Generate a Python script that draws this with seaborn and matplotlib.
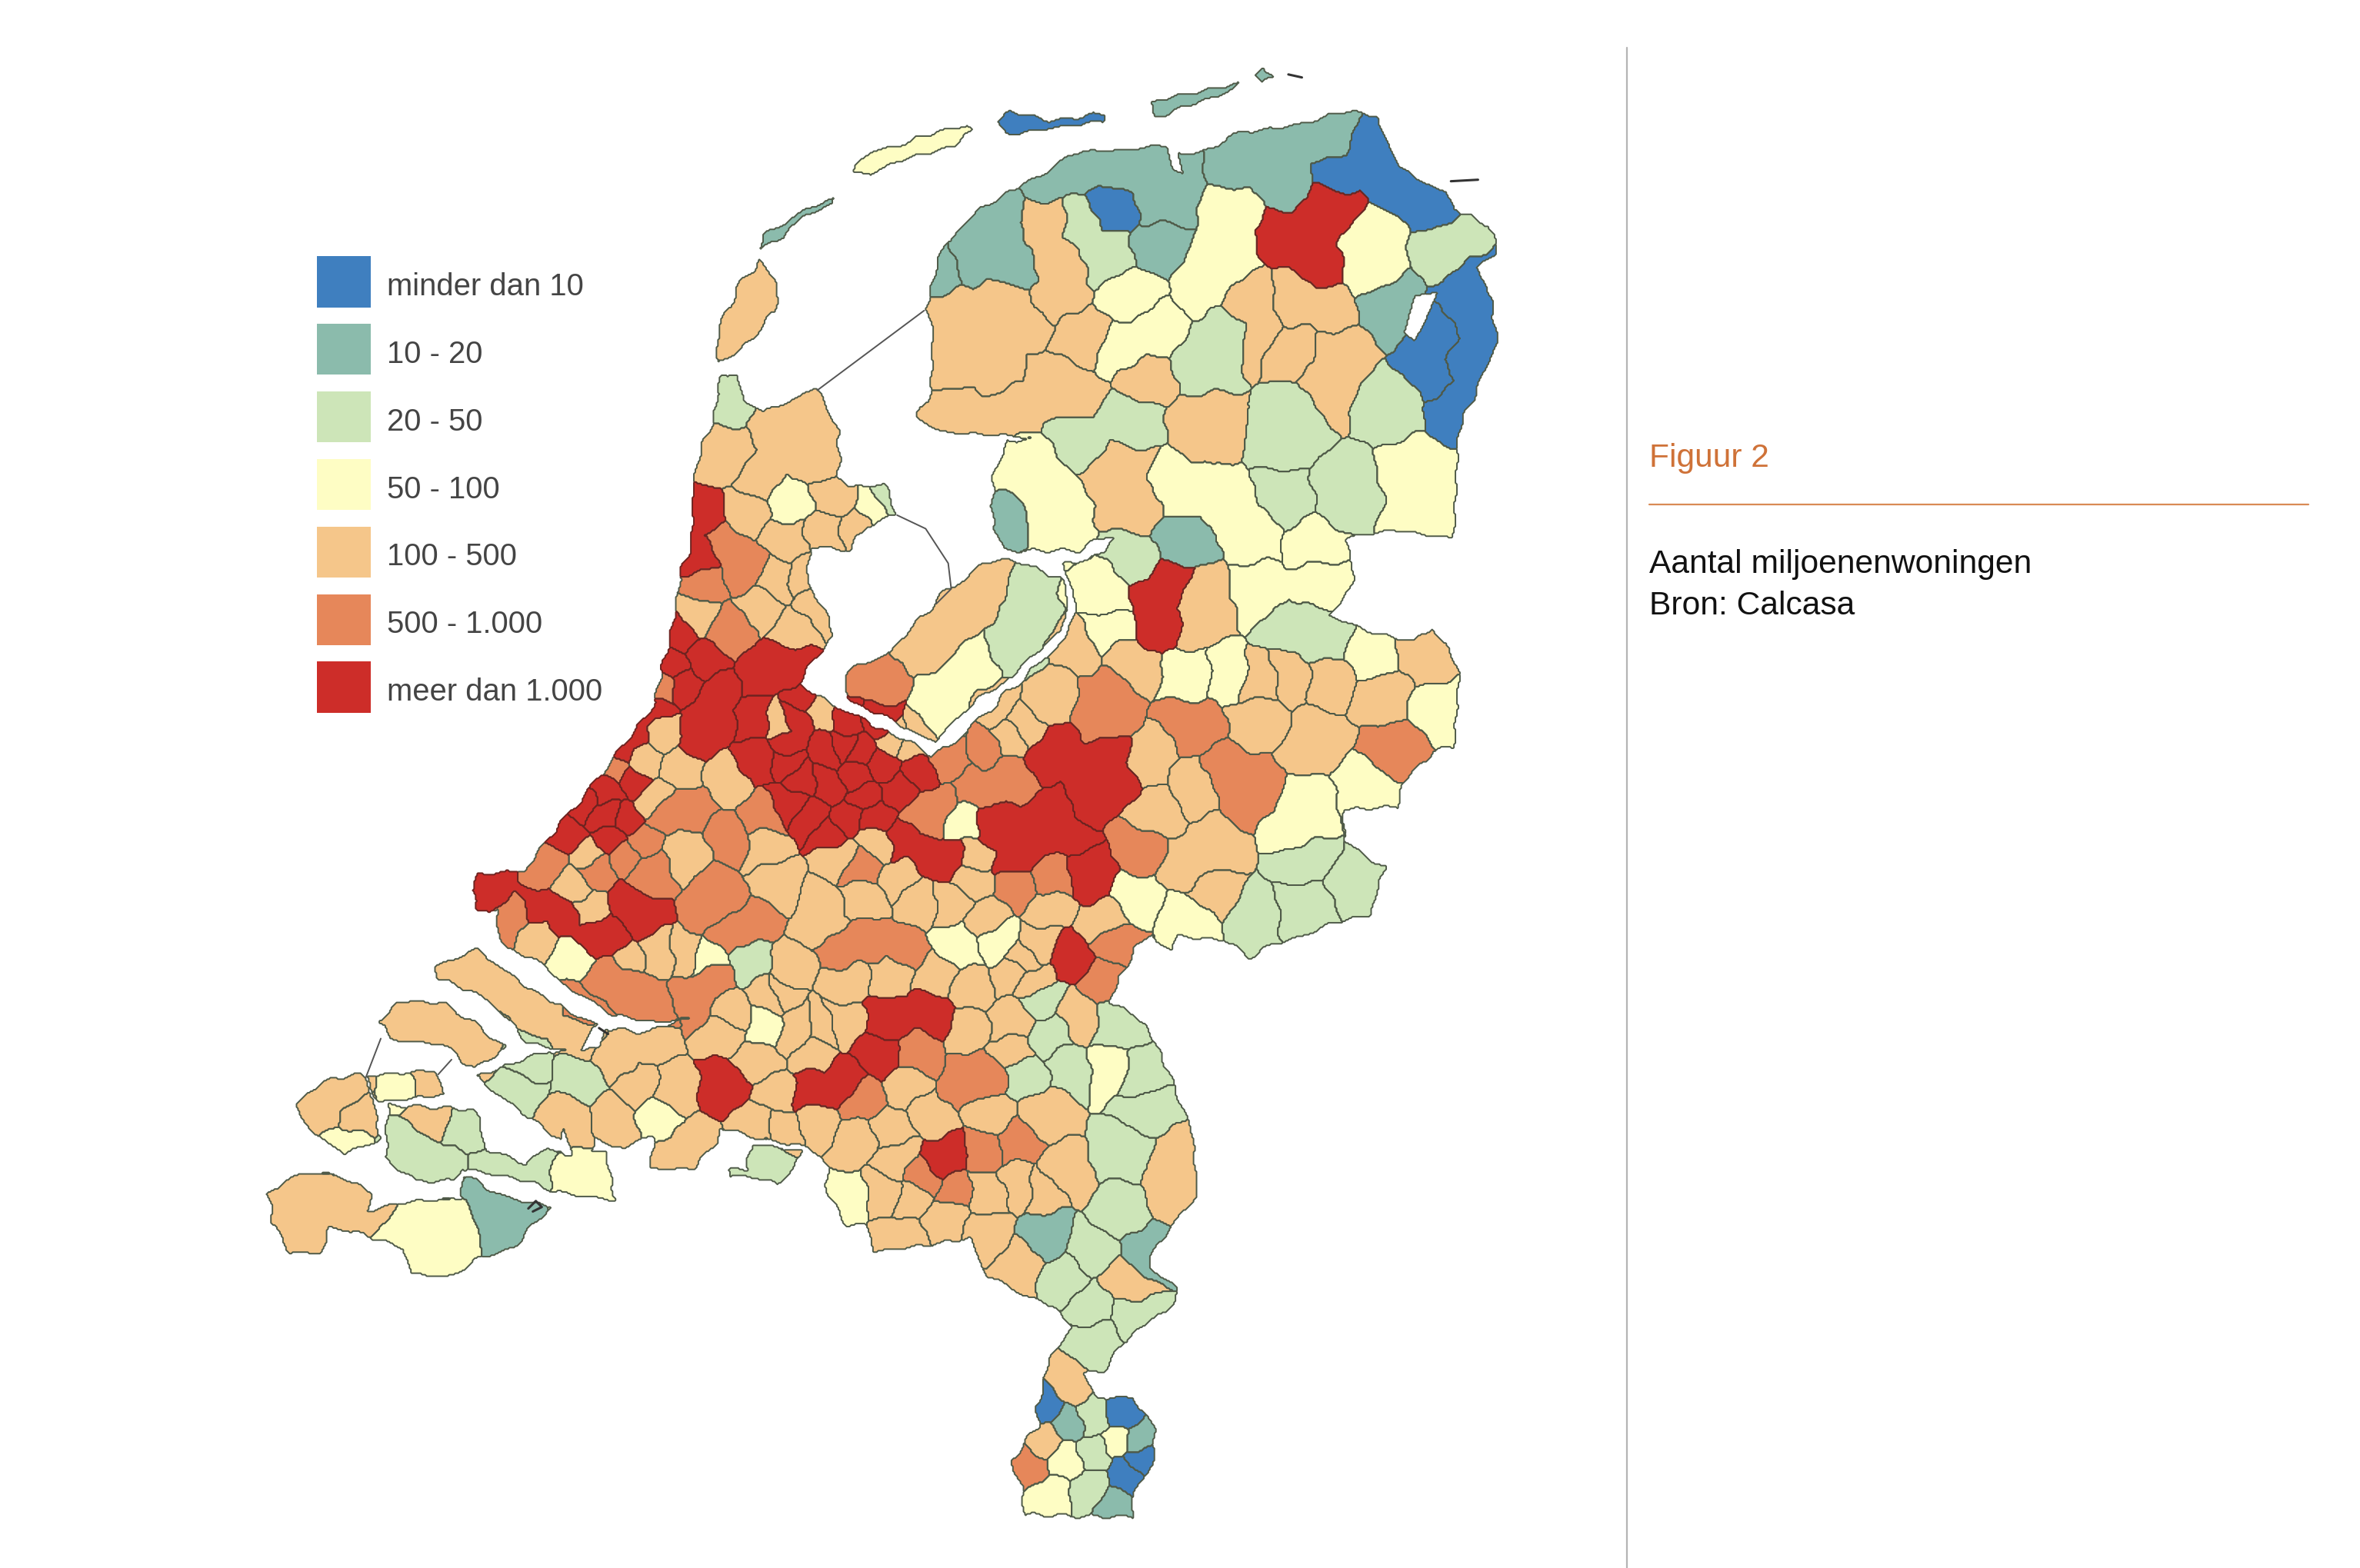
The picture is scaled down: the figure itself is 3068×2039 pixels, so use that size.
import numpy as np
import matplotlib
matplotlib.use("Agg")
import matplotlib.pyplot as plt
from matplotlib.colors import ListedColormap
from matplotlib.patches import Patch
from matplotlib.path import Path
import seaborn as sns

# ---------- legend ----------
class_labels = ["minder dan 10", "10 - 20", "20 - 50", "50 - 100", "100 - 500", "500 - 1.000", "meer dan 1.000"]
class_colors = ["#3f7fbf", "#8bbbac", "#cde5b8", "#fefdc4", "#f5c68a", "#e6875a", "#cd2d29"]

# ---------- land outlines (map geography) ----------
land_main = [(619,188),(628,163),(650,140),(682,122),(718,101),(745,100),(772,96),(785,104),(804,99),(818,91),(854,85),(890,75),(915,77),(922,99),(940,120),(962,129),(965,140),(990,150),(994,170),(980,179),(989,190),(994,229),(969,288),(965,359),(926,352),(894,359),(901,385),(883,411),(938,428),(952,417),(970,447),(965,498),(952,500),(949,504),(933,519),(929,536),(892,538),(892,559),(920,578),(911,608),(888,614),(851,627),(829,637),(815,625),(783,622),(778,633),(765,622),(755,629),(737,667),(753,674),(770,697),(791,751),(796,794),(770,826),(762,843),(783,857),(779,869),(753,886),(732,912),(719,912),(728,929),(753,929),(768,952),(766,975),(753,992),(753,1009),(728,1009),(681,1008),(679,989),(671,972),(690,949),(688,938),(698,903),(713,883),(700,870),(656,849),(643,823),(582,833),(575,814),(563,817),(548,789),(552,777),(537,763),(500,756),(480,751),(476,760),(461,777),(431,777),(436,757),(425,756),(413,765),(396,757),(392,775),(382,771),(372,745),(360,702),(397,698),(402,685),(431,687),(457,677),(436,681),(406,674),(372,654),(364,642),(338,632),(328,616),(332,604),(317,606),(313,593),(317,583),(349,580),(363,559),(395,521),(436,468),(445,419),(448,413),(454,379),(459,358),(460,320),(474,277),(480,248),(490,250),(494,266),(508,275),(521,268),(542,259),(557,286),(557,316),(564,325),(587,323),(596,343),(575,350),(566,366),(539,364),(537,387),(550,411),(555,423),(543,436),(530,455),(555,470),(596,490),(618,502),(630,498),(662,468),(680,452),(710,423),(716,400),(706,376),(722,373),(743,358),(735,358),(716,366),(668,366),(659,350),(659,316),(671,295),(686,293),(675,291),(628,288),(610,279),(618,259),(619,213),(614,206)]
land_flevoland = [(669,372),(705,385),(710,400),(705,419),(664,457),(646,468),(621,494),(600,483),(564,466),(560,449),(591,434),(628,394),(655,375)]
land_texel = [(505,173),(516,190),(514,209),(492,234),(476,242),(478,218),(492,188)]
land_vlieland = [(505,165),(507,158),(535,140),(555,132),(553,137),(532,145),(521,158)]
land_terschelling = [(567,115),(578,101),(643,84),(646,88),(632,97),(578,115)]
land_ameland = [(662,81),(671,75),(697,80),(732,76),(732,80),(693,87),(671,91)]
land_schier = [(766,69),(783,63),(822,57),(811,63),(783,74),(766,78)]
land_rottum = [(833,50),(840,45),(846,52),(838,56)]
land_zvl = [(179,794),(194,783),(215,780),(249,793),(243,806),(272,800),(308,797),(308,783),(347,800),(366,803),(338,832),(315,839),(296,850),(272,847),(268,830),(251,824),(219,817),(213,834),(194,834),(181,814)]
land_walcheren = [(196,737),(211,721),(239,715),(249,731),(251,744),(253,757),(228,768),(217,760),(198,743)]
land_noordbeveland = [(243,717),(289,712),(296,728),(253,734)]
land_zuidbeveland = [(256,748),(258,736),(312,738),(319,744),(323,766),(351,774),(364,763),(376,771),(402,766),(410,799),(376,793),(355,788),(308,777),(300,786),(277,787),(256,771)]
land_schouwen = [(251,680),(266,667),(296,668),(313,680),(338,697),(315,710),(292,694),(260,691)]
land_goeree = [(289,642),(317,632),(355,660),(397,683),(381,702),(351,693),(325,666),(304,655),(292,652)]
land_tholen = [(317,717),(345,705),(366,700),(378,745),(372,758),(340,735)]
land_baarle = [(484,776),(497,779),(499,760),(533,767),(525,780),(516,788),(495,783),(484,783)]
water_hole = [(933,222),(940,197),(955,195),(947,214),(940,227)]
water_lauwers = [(775,97),(781,96),(786,116),(779,113)]
dike_afsluit = [(543,260),(614,207)]
dike_houtrib = [(596,343),(615,352),(630,375),(632,392),(622,402)]
dike_veerse = [(243,717),(253,691)]
dike_brouwers = [(291,715),(300,705)]
speck_saeftinghe = [(351,804),(356,799),(360,803),(354,806)]
speck_griend = [(964,121),(982,120)]
speck_rottum = [(856,50),(865,52)]
speck_biesbosch = [(398,684),(404,688)]

# ---------- municipalities: every region is a group of reference points, by class ----------
blue_regions = [[(738,140)],[(908,108),(890,117),(925,122),(948,133)],[(976,190),(978,213),(976,240),(969,268)],[(954,225),(950,248)],[(696,935)],[(743,943)],[(760,969)],[(747,984)],[(675,82),(715,80)]]
teal_regions = [[(665,165),(660,140),(672,178),(642,175),(650,152)],[(628,178)],[(698,118),(720,108),(745,112),(782,118),(772,136)],[(770,163)],[(854,100),(818,110),(854,122),(880,92)],[(922,204)],[(786,361)],[(664,352)],[(696,823)],[(762,833)],[(707,948)],[(758,958)],[(743,1001)],[(778,69),(805,62)],[(839,50)],[(334,808),(340,825),(325,792)],[(520,155),(545,137)]]
green_regions = [[(736,168),(718,149)],[(962,168)],[(925,268)],[(862,270),(851,293)],[(801,240),(820,225)],[(747,279),(718,291)],[(851,332)],[(894,327)],[(752,370)],[(483,263)],[(591,332)],[(682,390),(682,410),(672,432)],[(856,417),(879,430)],[(865,572)],[(902,587)],[(865,604)],[(833,610)],[(500,637)],[(385,717)],[(510,772)],[(745,806)],[(724,831)],[(707,852)],[(724,869)],[(753,875)],[(728,892)],[(728,943)],[(728,966)],[(724,989)],[(762,737)],[(745,766)],[(758,717)],[(711,711)],[(698,688)],[(681,715)],[(741,682)],[(692,665)],[(279,766),(265,760),(295,775)],[(342,725)],[(308,754)],[(347,772),(328,775)],[(349,705)]]
yellow_regions = [[(815,167),(818,140),(801,186)],[(912,158),(908,181)],[(752,197)],[(765,220),(747,236)],[(940,316),(945,340)],[(697,332),(682,309),(704,357)],[(818,336),(833,355),(783,327)],[(872,366)],[(524,335)],[(581,340)],[(837,394),(874,385)],[(792,449)],[(815,449)],[(728,392),(735,400)],[(737,417),(732,420)],[(628,457),(628,478),(648,440)],[(911,438)],[(956,472)],[(911,525)],[(865,538),(860,553)],[(792,612)],[(751,597)],[(641,548)],[(381,637)],[(637,631)],[(664,627)],[(468,637)],[(507,684)],[(438,744)],[(563,797)],[(737,711)],[(741,958)],[(709,972)],[(696,995)],[(283,820),(270,835),(300,818)],[(232,761)],[(268,724)],[(389,783)],[(585,107),(625,92)]]
orange_regions = [[(702,175),(696,150),(702,197)],[(833,202),(833,225)],[(861,197),(883,204)],[(858,236)],[(890,236),(876,259)],[(757,250),(718,225)],[(654,225),(639,209),(661,247),(640,240),(665,200),(680,212)],[(700,255),(670,272),(640,278),(715,265)],[(804,284)],[(743,314),(754,339)],[(520,290),(545,310),(505,320)],[(481,304)],[(553,330)],[(571,352)],[(524,359)],[(496,341)],[(548,355)],[(518,385)],[(532,383)],[(505,406)],[(527,417)],[(541,404)],[(463,408)],[(516,481)],[(544,474)],[(591,493)],[(607,495)],[(669,489)],[(582,561)],[(555,570)],[(438,489)],[(427,504)],[(454,510)],[(482,519)],[(432,534)],[(454,567)],[(390,567)],[(381,591)],[(390,605)],[(358,622)],[(418,635)],[(436,633)],[(457,633)],[(518,586)],[(546,601),(546,616)],[(573,597)],[(600,584)],[(610,599)],[(632,599)],[(646,586)],[(646,570)],[(696,605)],[(655,610)],[(692,627)],[(733,610)],[(678,640)],[(591,648)],[(523,644),(514,661)],[(564,654)],[(623,648)],[(646,658)],[(687,654)],[(486,675)],[(509,563)],[(632,421),(645,398),(615,432),(660,385)],[(751,442)],[(719,428)],[(696,466)],[(664,472)],[(678,483)],[(765,506)],[(838,478)],[(838,453)],[(870,493)],[(947,438)],[(920,461)],[(883,449)],[(856,449)],[(806,565),(790,575)],[(806,595)],[(769,540)],[(792,523)],[(801,400),(795,415),(793,395)],[(431,694),(410,705)],[(423,720)],[(378,745)],[(408,745)],[(457,760),(450,770)],[(448,725)],[(482,688)],[(529,685)],[(546,685)],[(503,705)],[(542,702)],[(516,728)],[(503,748)],[(520,751)],[(601,722)],[(643,685)],[(671,680)],[(673,700)],[(560,680)],[(542,748)],[(567,760)],[(592,751)],[(618,742)],[(660,743)],[(694,740)],[(597,771)],[(588,794)],[(605,797)],[(630,808)],[(656,794)],[(677,788)],[(692,791)],[(707,780)],[(597,823)],[(656,820)],[(677,843)],[(749,854)],[(779,794),(785,770)],[(711,923)],[(694,958)],[(715,677)],[(673,648)],[(516,660)],[(497,205),(505,185),(490,225)],[(211,808),(195,800),(235,800)],[(215,734),(228,725)],[(239,745)],[(285,744)],[(296,685),(270,677),(320,695)],[(359,671),(320,648),(385,690)],[(280,720)]]
dark_regions = [[(495,379),(482,364)],[(468,390)],[(486,419)],[(632,506)],[(655,497)],[(669,519),(646,525)],[(623,536),(614,544)],[(573,578)],[(701,584)],[(676,591)],[(582,453)],[(737,462),(733,478)],[(792,483)],[(815,515),(833,527)],[(929,500)],[(756,565)],[(411,514)],[(438,457)],[(459,538),(441,542)],[(484,557)],[(509,544)],[(427,559)],[(413,570)],[(432,580)],[(397,578)],[(363,578)],[(340,612)],[(418,656),(400,650),(432,671)],[(472,652),(463,665)],[(477,595),(472,608)],[(500,618),(482,620)],[(577,627),(559,631),(600,633)],[(733,650)],[(742,631)],[(611,702)],[(575,731)],[(639,720),(655,715)],[(613,784)],[(633,793)],[(655,765)],[(673,760)],[(683,975)],[(387,668)]]
red_regions = [[(466,345),(464,370)],[(450,421)],[(447,442)],[(505,449),(523,442)],[(473,474),(463,493),(477,459)],[(468,442)],[(454,453)],[(412,500),(420,488),(432,472)],[(505,478)],[(530,478),(523,495)],[(536,468)],[(564,481)],[(582,483)],[(559,495)],[(573,500)],[(550,500)],[(523,506)],[(505,506)],[(532,519)],[(550,521)],[(568,517)],[(573,532)],[(564,544)],[(541,546)],[(523,534)],[(596,525)],[(610,515)],[(587,508)],[(582,544)],[(550,555)],[(700,500),(735,505),(725,530),(740,520)],[(660,550),(675,570),(700,545),(710,558)],[(721,578),(728,587)],[(614,570),(600,559),(632,572)],[(386,534)],[(404,525)],[(418,519)],[(377,555)],[(404,544)],[(418,544)],[(404,559)],[(418,604),(426,614)],[(359,604),(327,591),(375,612),(395,622),(410,626)],[(710,637)],[(768,402),(772,415),(781,390)],[(856,158),(872,150),(887,136),(875,180)],[(480,722)],[(540,725),(560,718)],[(585,702)],[(590,678),(620,675)],[(628,770)]]

regions_by_class = [blue_regions, teal_regions, green_regions, yellow_regions, orange_regions, dark_regions, red_regions]
land_polys = [land_main, land_flevoland, land_texel, land_vlieland, land_terschelling, land_ameland, land_schier, land_rottum, land_zvl, land_walcheren, land_noordbeveland, land_zuidbeveland, land_schouwen, land_goeree, land_tholen, land_baarle]

# ---------- build the map grid (one cell = one reference pixel) ----------
NX, NY = 1568, 1043
xs = np.arange(NX) + 0.5
ys = np.arange(NY) + 0.5
X, Y = np.meshgrid(xs, ys)
pts = np.column_stack([X.ravel(), Y.ravel()])
# a small ripple makes the coast less straight
coast_pts = pts + 0.9*np.column_stack([np.sin(pts[:, 1]/3.3)+np.sin(pts[:, 0]/2.3), np.sin(pts[:, 0]/3.1)+np.sin(pts[:, 1]/2.7)])
land = np.zeros(pts.shape[0], bool)
for poly in land_polys:
    land |= Path(poly).contains_points(coast_pts)
land &= ~Path(water_hole).contains_points(pts)
land &= ~Path(water_lauwers).contains_points(pts)

seed_xy, seed_region, region_class = [], [], []
rid = 0
for k, regs in enumerate(regions_by_class):
    for reg in regs:
        for p in reg:
            seed_xy.append(p)
            seed_region.append(rid)
        region_class.append(k)
        rid += 1
seed_xy = np.array(seed_xy, float)
seed_region = np.array(seed_region)
region_class = np.array(region_class)

lp = pts[land]
# slightly wavy borders, like municipal boundaries
qx = lp[:, 0] + 1.5*np.sin(lp[:, 1]/6.1) + 1.0*np.sin((lp[:, 0]+lp[:, 1])/3.7)
qy = lp[:, 1] + 1.5*np.sin(lp[:, 0]/5.3) + 1.0*np.sin((lp[:, 0]-lp[:, 1])/4.1)
nearest = np.empty(lp.shape[0], int)
for s in range(0, lp.shape[0], 20000):
    d = (qx[s:s+20000, None]-seed_xy[:, 0])**2 + (qy[s:s+20000, None]-seed_xy[:, 1])**2
    nearest[s:s+20000] = d.argmin(axis=1)
labels = -np.ones(pts.shape[0], int)
labels[land] = seed_region[nearest]
labels = labels.reshape(NY, NX)
values = np.where(labels >= 0, region_class[np.clip(labels, 0, None)], 0).astype(float)

# ---------- draw ----------
sns.set_theme(style="white")
plt.rcParams["font.family"] = ["Liberation Sans", "DejaVu Sans"]
fig = plt.figure(figsize=(15.34, 10.2), dpi=200, facecolor="white")
ax = fig.add_axes([0, 0, 1, 1])
sns.heatmap(values, mask=labels < 0, cmap=ListedColormap(class_colors), vmin=-0.5, vmax=6.5,
            cbar=False, xticklabels=False, yticklabels=False, ax=ax)

order = np.argsort(region_class == 6, kind="stable")
for r in order:
    rows, cols = np.where(labels == r)
    if rows.size == 0:
        continue
    r0, r1 = max(rows.min()-2, 0), min(rows.max()+3, NY)
    c0, c1 = max(cols.min()-2, 0), min(cols.max()+3, NX)
    col = "#6e2320" if region_class[r] == 6 else "#4f5a48"
    ax.contour(X[r0:r1, c0:c1], Y[r0:r1, c0:c1], (labels[r0:r1, c0:c1] == r).astype(float),
               levels=[0.5], colors=col, linewidths=0.7)

for line in (dike_afsluit, dike_houtrib, dike_veerse, dike_brouwers):
    ax.plot(*zip(*line), color="#555555", lw=0.7)
for line in (speck_saeftinghe, speck_griend, speck_rottum, speck_biesbosch):
    ax.plot(*zip(*line), color="#333333", lw=1.1)

ax.set_xlim(0, NX)
ax.set_ylim(NY, 0)
ax.set_axis_off()

handles = [Patch(facecolor=c, edgecolor="none", label=l) for c, l in zip(class_colors, class_labels)]
leg = ax.legend(handles=handles, loc="upper left", bbox_to_anchor=(210.6/NX, 1-171/NY), frameon=False,
                fontsize=14.4, labelcolor="#444444", handlelength=1.75, handleheight=2.17,
                labelspacing=0.54, handletextpad=0.52, borderpad=0, borderaxespad=0)
for t in leg.get_texts():
    t.set_y(-4)

ax.plot([1081, 1081], [32, NY], color="#b5b5b5", lw=0.8)
ax.plot([1096, 1534], [336, 336], color="#d98a55", lw=0.8)
ax.text(1096, 304.5, "Figuur 2", fontsize=15.3, color="#cf7238", va="center", ha="left")
ax.text(1096, 375.5, "Aantal miljoenenwoningen", fontsize=15.35, color="#111111", va="center", ha="left")
ax.text(1096, 403, "Bron: Calcasa", fontsize=15.35, color="#111111", va="center", ha="left")

fig.savefig("out.png", dpi=200, facecolor="white")
